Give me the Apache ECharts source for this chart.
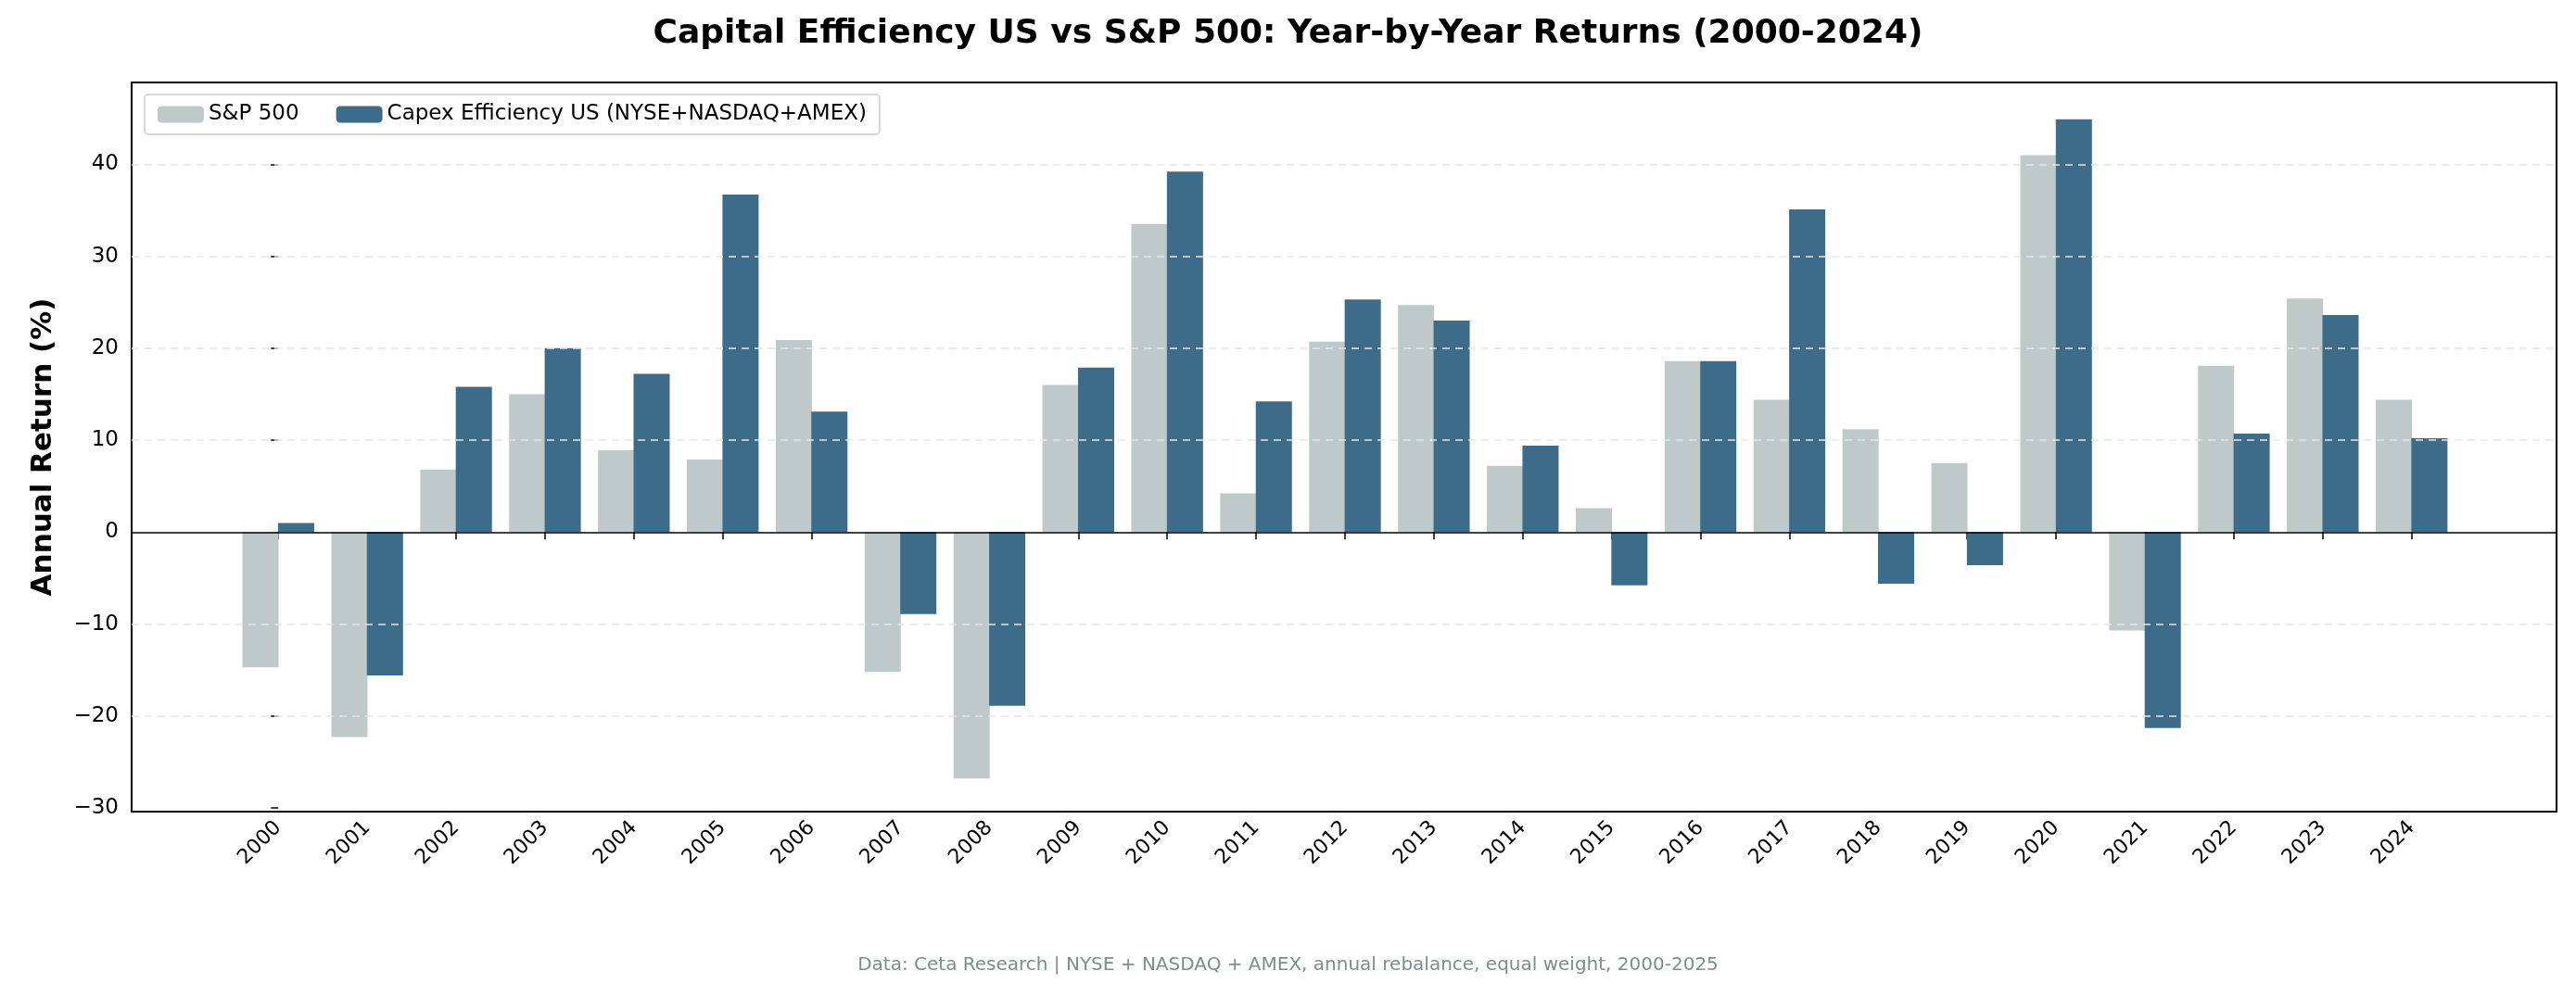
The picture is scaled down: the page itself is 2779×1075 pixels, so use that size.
<!DOCTYPE html>
<html><head><meta charset="utf-8">
<script src="https://cdn.jsdelivr.net/npm/echarts@6/dist/echarts.min.js"></script>
<style>html,body{margin:0;padding:0;background:#fff}#c{width:2779px;height:1075px}</style>
</head><body><div id="c"></div>
<script>
const years = [2000,2001,2002,2003,2004,2005,2006,2007,2008,2009,2010,2011,2012,2013,2014,2015,2016,2017,2018,2019,2020,2021,2022,2023,2024];
const sp500 = [-14.7,-22.3,6.8,15.0,8.9,7.9,20.9,-15.2,-26.8,16.0,33.5,4.2,20.7,24.7,7.2,2.6,18.6,14.4,11.2,7.5,41.0,-10.7,18.1,25.4,14.4];
const capex = [1.0,-15.6,15.8,20.0,17.2,36.7,13.1,-8.9,-18.9,17.9,39.2,14.2,25.3,23.0,9.4,-5.8,18.6,35.1,-5.6,-3.6,44.9,-21.3,10.7,23.6,10.2];
const yTicks = [-30,-20,-10,0,10,20,30,40];

const idx = years.map((y,i)=>i);
const chart = echarts.init(document.getElementById('c'));
chart.setOption({
  animation:false,
  title:{text:'Capital Efficiency US vs S&P 500: Year-by-Year Returns (2000-2024)',left:'center',top:14,
    textStyle:{fontSize:36,fontWeight:'bold',color:'#000',fontFamily:'DejaVu Sans'}},
  legend:{left:156,top:102,itemWidth:50,itemHeight:18,itemGap:40,borderColor:'#ccc',borderWidth:1.5,borderRadius:4,padding:[10,14],
    textStyle:{fontSize:23,color:'#000',fontFamily:'DejaVu Sans'},data:['S&P 500','Capex Efficiency US (NYSE+NASDAQ+AMEX)']},
  graphic:[{type:'text',left:'center',top:1032,style:{text:'Data: Ceta Research | NYSE + NASDAQ + AMEX, annual rebalance, equal weight, 2000-2025',fontSize:20,fill:'#7f8c8d',fontFamily:'DejaVu Sans'}}],
  grid:{left:142,right:21,top:89,bottom:199,show:true,borderColor:'#000',borderWidth:2},
  xAxis:{type:'value',min:-1.65,max:25.63,
    axisLine:{show:false},splitLine:{show:false},
    axisTick:{show:true,customValues:idx,length:8,lineStyle:{color:'#000',width:1.5}},
    axisLabel:{customValues:idx,formatter:v=>String(years[Math.round(v)]),rotate:45,fontSize:22,color:'#000',margin:14,fontFamily:'DejaVu Sans'}},
  yAxis:{type:'value',min:-30.4,max:48.9,name:'Annual Return (%)',nameLocation:'middle',nameGap:80,
    nameTextStyle:{fontSize:31,fontWeight:'bold',color:'#000',fontFamily:'DejaVu Sans'},
    axisLine:{show:false},splitLine:{show:false},
    axisTick:{show:true,customValues:yTicks,length:8,lineStyle:{color:'#000',width:1.5}},
    axisLabel:{customValues:yTicks,formatter:v=>String(v).replace('-','\u2212'),fontSize:23,color:'#000',margin:14,fontFamily:'DejaVu Sans'}},
  series:[
    {name:'S&P 500',type:'bar',barWidth:39,barGap:'-100%',itemStyle:{color:'#bfc9ca'},
      data:sp500.map((v,i)=>[i-0.2,v]),
      markLine:{silent:true,symbol:'none',label:{show:false},
        data:[-20,-10,10,20,30,40].map(v=>({yAxis:v,lineStyle:{color:'#e6e6e6',type:[8,6],width:1.5}})).concat([{yAxis:0,lineStyle:{color:'#000',type:'solid',width:1.5}}])}},
    {name:'Capex Efficiency US (NYSE+NASDAQ+AMEX)',type:'bar',barWidth:39,barGap:'-100%',itemStyle:{color:'#3d6b8a'},
      data:capex.map((v,i)=>[i+0.2,v])}
  ]
});
</script></body></html>
